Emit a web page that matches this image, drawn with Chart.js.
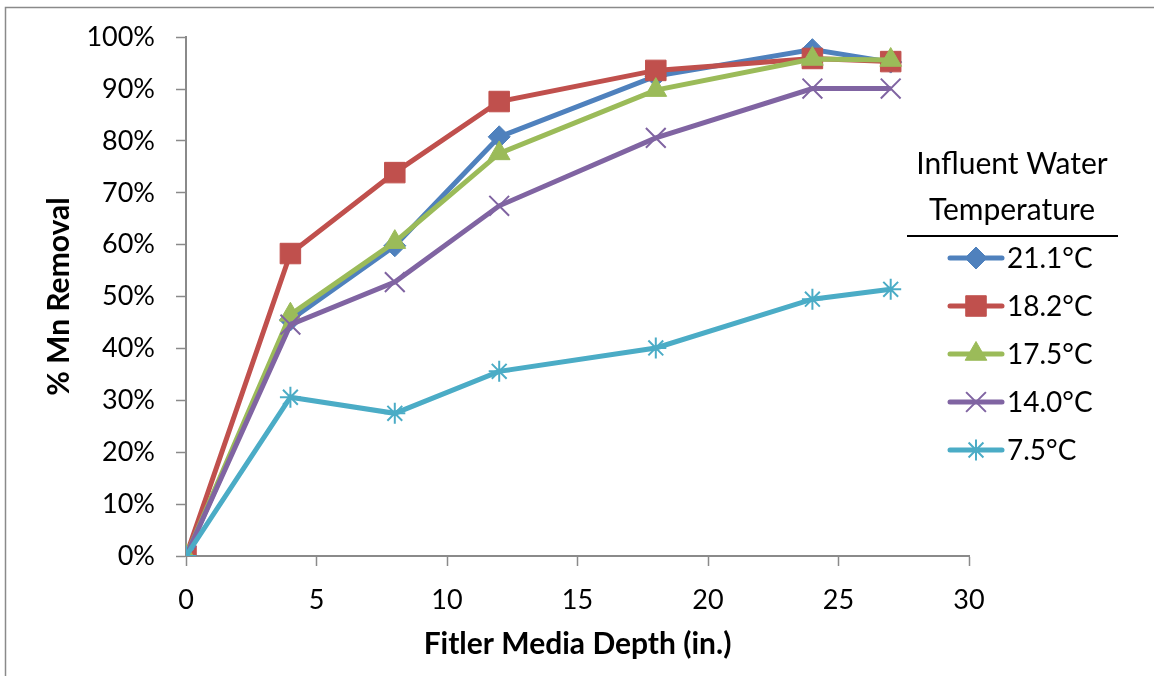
<!DOCTYPE html>
<html>
<head>
<meta charset="utf-8">
<script src="https://cdn.jsdelivr.net/npm/chart.js@4/dist/chart.umd.min.js"></script>
<style>
  html, body { margin: 0; padding: 0; background: #ffffff; }
  #wrap { width: 1154px; height: 676px; position: relative; }
</style>
</head>
<body>
<div id="wrap"><canvas id="chart" width="1154" height="676"></canvas></div>
<script>
// Filter media depth (in.) at each sampling port
const depths = [0, 4, 8, 12, 18, 24, 27];

// % Mn removal per influent water temperature
const removal211 = [0, 45.5, 59.8, 80.8, 92.5, 97.6, 95.2];
const removal182 = [0, 58.3, 73.9, 87.6, 93.6, 95.9, 95.3];
const removal175 = [0, 46.5, 60.5, 77.6, 89.8, 95.8, 95.6];
const removal140 = [0, 44.6, 52.8, 67.5, 80.6, 90.1, 90.1];
const removal75  = [0, 30.6, 27.5, 35.6, 40.1, 49.5, 51.4];

const seriesLabels = ['21.1°C', '18.2°C', '17.5°C', '14.0°C', '7.5°C'];
const legendTitle = ['Influent Water', 'Temperature'];
const xTitle = 'Fitler Media Depth (in.)';
const yTitle = '% Mn Removal';

const FONT = 'Lato, Carlito, "Liberation Sans", sans-serif';

function pts(values) {
  return depths.map((d, i) => ({ x: d, y: values[i] }));
}

function series(label, values, color, style, radius, bw, order) {
  return {
    label,
    data: pts(values),
    borderColor: color,
    backgroundColor: color,
    borderWidth: 5,
    pointStyle: style,
    pointRadius: radius,
    pointHoverRadius: radius,
    pointBackgroundColor: color,
    pointBorderColor: color,
    pointBorderWidth: bw,
    tension: 0,
    order
  };
}

const datasets = [
  series(seriesLabels[0], removal211, '#4F81BD', 'rectRot', 11, 1, 5),
  series(seriesLabels[1], removal182, '#C0504D', 'rect', 14.5, 1, 4),
  series(seriesLabels[2], removal175, '#9BBB59', 'triangle', 12.5, 1, 3),
  series(seriesLabels[3], removal140, '#8064A2', 'crossRot', 14, 2, 2),
  series(seriesLabels[4], removal75,  '#4BACC6', 'star', 10.5, 2, 1)
];

// Outer frame and the titled legend on the right
const extras = {
  id: 'extras',
  beforeDraw(chart) {
    const ctx = chart.ctx;
    ctx.save();
    ctx.fillStyle = '#ffffff';
    ctx.fillRect(0, 0, chart.width, chart.height);
    ctx.strokeStyle = '#8a8a8a';
    ctx.lineWidth = 1.5;
    ctx.beginPath();
    ctx.moveTo(5.5, chart.height);
    ctx.lineTo(5.5, 7.5);
    ctx.lineTo(chart.width, 7.5);
    ctx.stroke();
    ctx.restore();
  },
  afterDraw(chart) {
    const ctx = chart.ctx;
    ctx.save();
    ctx.fillStyle = '#000000';
    ctx.font = '30px ' + FONT;
    ctx.textAlign = 'center';
    ctx.textBaseline = 'middle';
    ctx.fillText(legendTitle[0], 1012, 164);
    ctx.fillText(legendTitle[1], 1012, 210);
    ctx.strokeStyle = '#000000';
    ctx.lineWidth = 2;
    ctx.beginPath();
    ctx.moveTo(907, 236);
    ctx.lineTo(1118, 236);
    ctx.stroke();

    ctx.font = '28px ' + FONT;
    const rowY0 = 258, rowGap = 48;
    chart.data.datasets.forEach((ds, i) => {
      const y = rowY0 + i * rowGap;
      ctx.strokeStyle = ds.borderColor;
      ctx.lineWidth = 5;
      ctx.lineCap = 'round';
      ctx.beginPath();
      ctx.moveTo(950, y);
      ctx.lineTo(1002, y);
      ctx.stroke();
      ctx.lineCap = 'butt';
      ctx.fillStyle = ds.pointBackgroundColor;
      ctx.strokeStyle = ds.pointBorderColor;
      ctx.lineWidth = ds.pointBorderWidth;
      Chart.helpers.drawPoint(ctx, {
        pointStyle: ds.pointStyle,
        radius: ds.pointRadius,
        rotation: 0,
        borderWidth: ds.pointBorderWidth
      }, 976, y);
      ctx.fillStyle = '#000000';
      ctx.textAlign = 'left';
      ctx.fillText(ds.label, 1007, y + 1);
    });
    ctx.restore();
  }
};

new Chart(document.getElementById('chart'), {
  type: 'line',
  data: { datasets },
  plugins: [extras],
  options: {
    responsive: false,
    animation: false,
    events: [],
    layout: { padding: { left: 0, top: 36, right: 185, bottom: 0 } },
    plugins: {
      legend: { display: false },
      tooltip: { enabled: false },
      title: { display: false }
    },
    scales: {
      x: {
        type: 'linear',
        min: 0,
        max: 30,
        afterFit(scale) { scale.height = 120; },
        ticks: {
          stepSize: 5,
          color: '#000000',
          font: { family: FONT, size: 27 },
          padding: 18,
          maxRotation: 0
        },
        grid: {
          drawOnChartArea: false,
          drawTicks: true,
          tickLength: 10,
          tickColor: '#8a8a8a',
          tickWidth: 1.5
        },
        border: { display: true, color: '#8a8a8a', width: 2 },
        title: {
          display: true,
          text: xTitle,
          color: '#000000',
          font: { family: FONT, size: 30, weight: 'bold' },
          padding: { top: 0, bottom: 14 }
        }
      },
      y: {
        type: 'linear',
        min: 0,
        max: 100,
        afterFit(scale) { scale.width = 186; },
        ticks: {
          stepSize: 10,
          color: '#000000',
          font: { family: FONT, size: 27 },
          padding: 21,
          callback: (v) => v + '%'
        },
        grid: {
          drawOnChartArea: false,
          drawTicks: true,
          tickLength: 10,
          tickColor: '#8a8a8a',
          tickWidth: 1.5
        },
        border: { display: true, color: '#8a8a8a', width: 2 },
        title: {
          display: true,
          text: yTitle,
          color: '#000000',
          font: { family: FONT, size: 30, weight: 'bold' },
          padding: { top: 41, bottom: 0 }
        }
      }
    }
  }
});
</script>
</body>
</html>
